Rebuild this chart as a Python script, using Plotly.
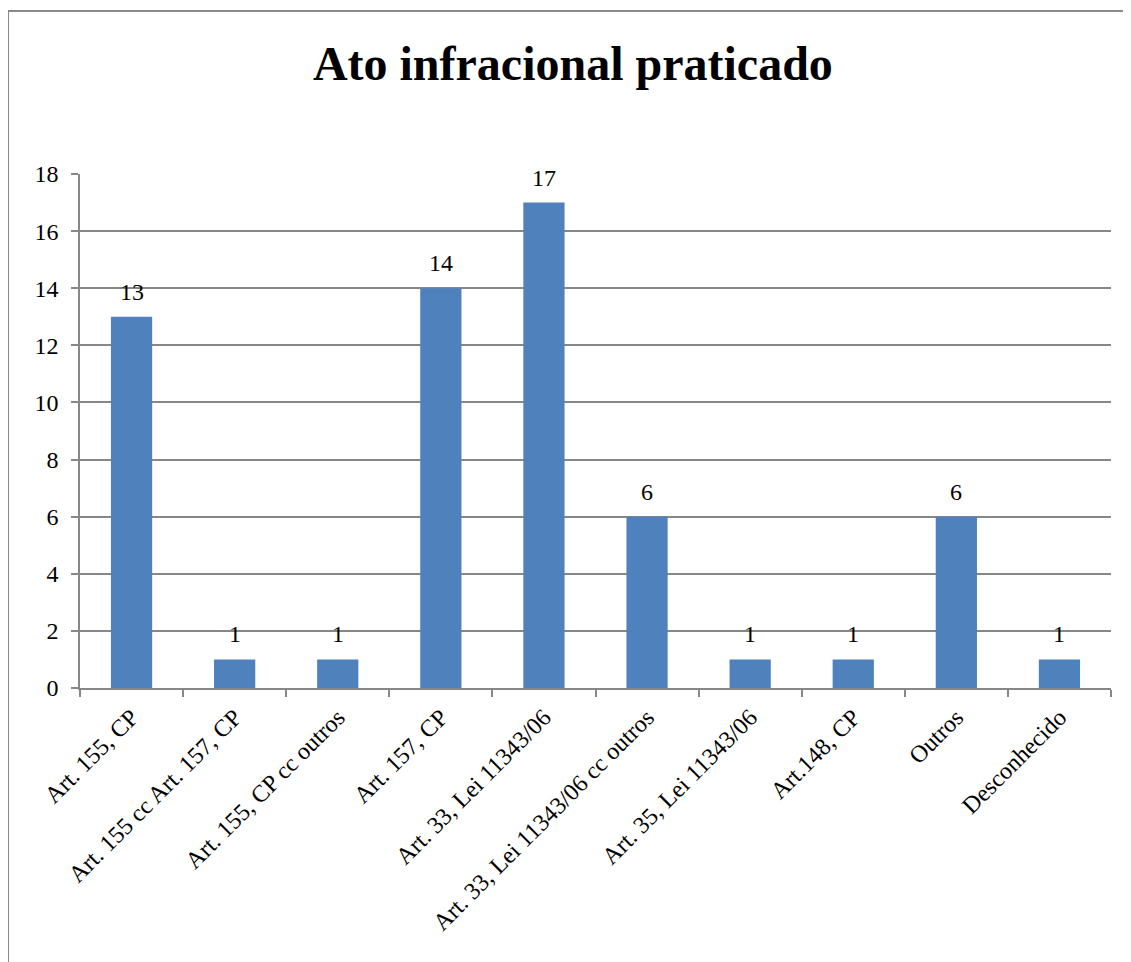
import plotly.graph_objects as go

categories = ["Art. 155, CP", "Art. 155 cc Art. 157, CP", "Art. 155, CP cc outros",
              "Art. 157, CP", "Art. 33, Lei 11343/06", "Art. 33, Lei 11343/06 cc outros",
              "Art. 35, Lei 11343/06", "Art.148, CP", "Outros", "Desconhecido"]
values = [13, 1, 1, 14, 17, 6, 1, 1, 6, 1]
y_ticks = [0, 2, 4, 6, 8, 10, 12, 14, 16, 18]

FONT = "Liberation Serif, Times New Roman, serif"
GRID = "#878787"

fig = go.Figure(go.Bar(
    x=categories, y=values,
    marker=dict(color="#4F81BD", line=dict(width=0)),
    hoverinfo="x+y",
))

annotations = [dict(x=c, y=v, xref="x", yref="y", text=str(v), showarrow=False,
                    yanchor="middle", yshift=25,
                    font=dict(family=FONT, size=24, color="black"))
               for c, v in zip(categories, values)]

fig.update_layout(
    width=1123, height=954,
    margin=dict(l=72, r=20, t=166, b=274),
    paper_bgcolor="white", plot_bgcolor="white",
    bargap=0.6,
    showlegend=False,
    title=dict(text="<b>Ato infracional praticado</b>", x=0.503, xanchor="center",
               y=0.9425, yanchor="middle",
               font=dict(family=FONT, size=48, color="black")),
    font=dict(family=FONT, color="black"),
    annotations=annotations,
    shapes=[dict(type="rect", xref="paper", yref="paper",
                 x0=-0.0698, x1=1.2, y0=-1, y1=1.317,
                 line=dict(color="#8a8a8a", width=2), layer="below")],
)

fig.update_yaxes(range=[0, 18], tickvals=y_ticks, showgrid=True, gridcolor=GRID,
                 gridwidth=1.5, showline=True, linecolor=GRID, linewidth=1.5,
                 ticks="outside", ticklen=7, tickcolor=GRID, tickwidth=1.5,
                 ticklabelstandoff=8,
                 tickfont=dict(family=FONT, size=24, color="black"),
                 zeroline=False)
fig.update_xaxes(showgrid=False, showline=True, linecolor=GRID, linewidth=1.5,
                 ticks="outside", ticklen=7, tickcolor=GRID, tickwidth=1.5,
                 tickson="boundaries", tickangle=-45, ticklabelstandoff=4,
                 tickfont=dict(family=FONT, size=24, color="black"))

fig.write_html("out.html")
